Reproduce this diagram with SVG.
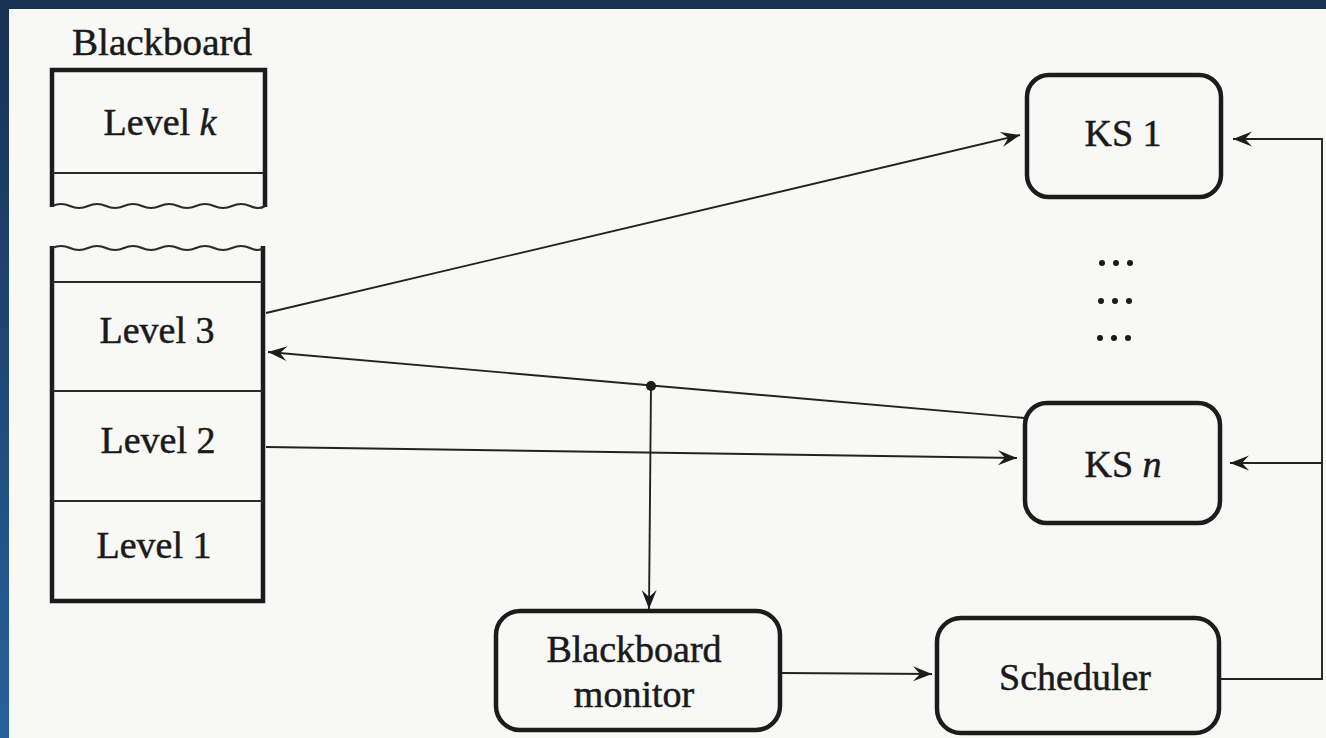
<svg xmlns="http://www.w3.org/2000/svg" width="1326" height="738" viewBox="0 0 1326 738">
  <defs>
    <linearGradient id="frameGrad" x1="0" y1="0" x2="0" y2="1">
      <stop offset="0" stop-color="#173152"/>
      <stop offset="1" stop-color="#27609c"/>
    </linearGradient>
    <marker id="barb" viewBox="-20 -9 22 18" refX="0" refY="0" markerWidth="22" markerHeight="18" markerUnits="userSpaceOnUse" orient="auto">
      <path d="M0,0 L-19,-7.5 L-12,0 L-19,7.5 Z" fill="#1c1c1c"/>
    </marker>
    <style>
      .lbl { font-family: "Liberation Serif", "Times New Roman", serif; font-size: 38px; fill: #1a1a1a; stroke: #1a1a1a; stroke-width: 0.5; text-anchor: middle; }
      .box { fill: none; stroke: #1c1c1c; stroke-width: 4.5; }
      .div { fill: none; stroke: #2a2a2a; stroke-width: 2.2; }
      .wire { fill: none; stroke: #222; stroke-width: 1.9; }
      .arrow { marker-end: url(#barb); }
    </style>
  </defs>

  <!-- slide frame and page -->
  <rect x="0" y="0" width="1326" height="738" fill="url(#frameGrad)"/>
  <rect x="0" y="0" width="1326" height="9" fill="#173152"/>
  <rect x="9" y="9" width="1317" height="729" fill="#f8f8f7"/>

  <!-- connectors -->
  <g id="connectors">
    <line class="wire arrow" x1="266" y1="313" x2="1020" y2="135"/>
    <line class="wire arrow" x1="1025" y1="418" x2="268" y2="352"/>
    <line class="wire arrow" x1="651" y1="386" x2="649" y2="609"/>
    <circle cx="651" cy="386" r="5" fill="#1c1c1c"/>
    <line class="wire arrow" x1="266" y1="447" x2="1017" y2="458"/>
    <line class="wire arrow" x1="782" y1="673" x2="932" y2="674"/>
    <polyline class="wire arrow" points="1220,679 1322,679 1322,139 1233,139"/>
    <line class="wire arrow" x1="1322" y1="463" x2="1230" y2="463"/>
  </g>

  <!-- blackboard: upper section -->
  <g id="blackboard-top">
    <text class="lbl" x="162" y="55" textLength="180" lengthAdjust="spacingAndGlyphs">Blackboard</text>
    <path class="box" d="M52,207 L52,70 L265,70 L265,207"/>
    <path class="div" d="M52,206 q9,-4 18,0 t18,0 t18,0 t18,0 t18,0 t18,0 t18,0 t18,0 t18,0 t18,0 t18,0 t15,0"/>
    <line class="div" x1="52" y1="173" x2="265" y2="173"/>
    <text class="lbl" x="160" y="135">Level <tspan font-style="italic">k</tspan></text>
  </g>

  <!-- blackboard: lower section -->
  <g id="blackboard-bottom">
    <path class="box" d="M52,246 L52,601 L263,601 L263,246"/>
    <path class="div" d="M52,248 q9,-4 18,0 t18,0 t18,0 t18,0 t18,0 t18,0 t18,0 t18,0 t18,0 t18,0 t18,0 t13,0"/>
    <line class="div" x1="52" y1="282" x2="263" y2="282"/>
    <line class="div" x1="52" y1="391" x2="263" y2="391"/>
    <line class="div" x1="52" y1="501" x2="263" y2="501"/>
    <text class="lbl" x="157" y="343">Level 3</text>
    <text class="lbl" x="158" y="453">Level 2</text>
    <text class="lbl" x="154" y="558">Level 1</text>
  </g>

  <!-- knowledge sources -->
  <g id="ks1">
    <rect class="box" x="1027" y="75" width="194" height="122" rx="22"/>
    <text class="lbl" x="1123" y="146">KS 1</text>
  </g>

  <g id="ks-ellipsis" fill="#1a1a1a">
    <circle cx="1102" cy="263" r="3"/><circle cx="1116" cy="263" r="3"/><circle cx="1130" cy="263" r="3"/>
    <circle cx="1101" cy="301" r="3"/><circle cx="1115" cy="301" r="3"/><circle cx="1129" cy="301" r="3"/>
    <circle cx="1100" cy="338" r="3"/><circle cx="1114" cy="338" r="3"/><circle cx="1128" cy="338" r="3"/>
  </g>

  <g id="ksn">
    <rect class="box" x="1025" y="403" width="195" height="120" rx="22"/>
    <text class="lbl" x="1123" y="477">KS <tspan font-style="italic">n</tspan></text>
  </g>

  <!-- control components -->
  <g id="monitor">
    <rect class="box" x="496" y="611" width="284" height="119" rx="24"/>
    <text class="lbl" x="634" y="662">Blackboard</text>
    <text class="lbl" x="634" y="707">monitor</text>
  </g>

  <g id="scheduler">
    <rect class="box" x="937" y="618" width="282" height="115" rx="24"/>
    <text class="lbl" x="1075" y="690">Scheduler</text>
  </g>
</svg>
